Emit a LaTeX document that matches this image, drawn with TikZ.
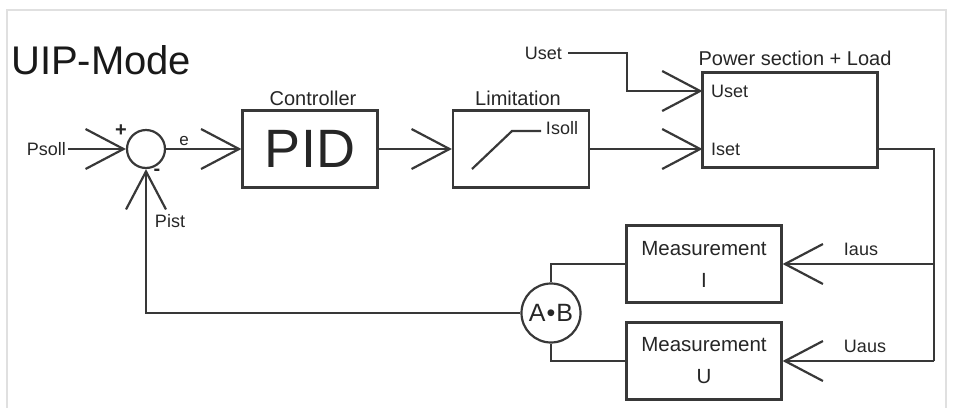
\documentclass[tikz,border=0pt]{standalone}
\usepackage{fontspec}
\setmainfont{Liberation Sans}
\usetikzlibrary{arrows.meta}
\begin{document}
\begin{tikzpicture}[x=1pt,y=-1pt,
  ln/.style={line width=2.2pt,draw=black!78},
  chev/.style={ln,-{Straight Barb[length=38pt,width=40pt,line width=2.2pt]}},
  blk/.style={ln,rectangle,minimum width=#1,inner sep=0pt,text=black!85},
  lbl/.style={inner sep=0pt,text=black!85,font=\fontsize{18}{20}\selectfont},
  big/.style={inner sep=0pt,text=black!85,font=\fontsize{20}{22}\selectfont}
]
\useasboundingbox (0,0) rectangle (962,408);
% faint frame
\draw[black!12,line width=1.2pt] (7,408) -- (7,10) -- (946,10) -- (946,408);

\node[inner sep=0pt,anchor=west,font=\fontsize{40}{44}\selectfont,text=black!90] (title) at (11,60) {UIP-Mode};

% sum junction
\node[ln,circle,minimum size=38pt,inner sep=0pt] (sum) at (146,149) {};
\node[lbl,anchor=east] (psoll) at (66,149) {Psoll};
\node[inner sep=0pt,font=\bfseries\fontsize{20}{22}\selectfont,text=black!85] (plus) at (121,131) {+};
\node[inner sep=0pt,font=\bfseries\fontsize{20}{22}\selectfont,text=black!85] (minus) at (157,172) {-};
\node[lbl] (pist) at (170,221) {Pist};
\node[inner sep=0pt,text=black!85,font=\fontsize{17}{19}\selectfont] (elbl) at (184,141) {e};

% controller
\node[blk=135pt,minimum height=77pt,font=\fontsize{54}{58}\selectfont] (pid) at (310,149) {PID};
\node[big] (ctrl) at (313,98) {Controller};

% limitation
\node[blk=136pt,minimum height=77pt] (lim) at (521,149) {};
\node[big] (limlbl) at (518,98) {Limitation};
\coordinate (r1) at (472,169);
\coordinate (r2) at (512,131);
\coordinate (r3) at (541,131);
\draw[ln] (r1) -- (r2) -- (r3);
\node[lbl] (isoll) at (562,128) {Isoll};

% power section
\node[blk=175pt,minimum height=95pt] (pow) at (790,120) {};
\node[big] (powlbl) at (795,58) {Power section + Load};
\node[lbl,anchor=west] (usetin) at (711,91) {Uset};
\node[lbl,anchor=west] (isetin) at (711,149) {Iset};
\node[lbl,anchor=east] (usetex) at (562,53) {Uset};
\coordinate (u1) at (627,53);
\coordinate (u2) at (627,91);
\coordinate (uin) at (702.5,91);
\coordinate (iin) at (702.5,149);
\coordinate (pout) at (877.5,149);
\coordinate (c1) at (934,149);
\coordinate (c2) at (934,264);
\coordinate (c3) at (934,361);

% measurement blocks
\node[blk=155pt,minimum height=77pt,align=center,font=\fontsize{20.5}{32}\selectfont] (mi) at (704,264) {Measurement\\I};
\node[blk=155pt,minimum height=77pt,align=center,font=\fontsize{20.5}{32}\selectfont] (mu) at (704,361) {Measurement\\U};
\node[lbl] (iaus) at (861,249) {Iaus};
\node[lbl] (uaus) at (865,346) {Uaus};

% multiplier
\node[ln,circle,minimum size=59pt,inner sep=0pt,text=black!85,font=\fontsize{25}{27}\selectfont] (ab) at (551,313) {A\kern1pt•\kern1pt B};

% connections
\draw[chev] (psoll.east) ++(2,0) -- (sum.west);
\draw[chev] (sum.east) -- (pid.west);
\draw[chev] (pid.east) -- (lim.west);
\draw[chev] (lim.east) -- (iin);
\draw[chev] (usetex.east) ++(6,0) -- (u1) -- (u2) -- (uin);
\draw[ln] (pout) -- (c1) -- (c3);
\draw[chev] (c2) -- (mi.east);
\draw[chev] (c3) -- (mu.east);
\draw[ln] (mi.west) -| (ab.north);
\draw[ln] (mu.west) -| (ab.south);
\draw[chev] (ab.west) -| (sum.south);
\end{tikzpicture}
\end{document}
